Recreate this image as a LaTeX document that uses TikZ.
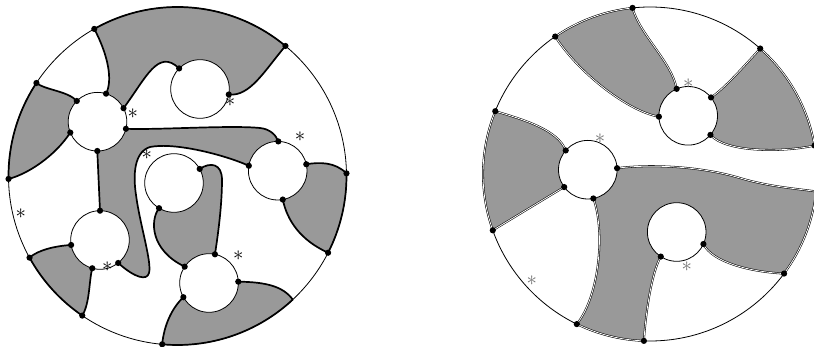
\documentclass[tikz,border=0pt]{standalone}
\usetikzlibrary{calc}
\definecolor{regiongray}{gray}{0.6}
\tikzset{
  region/.style={fill=regiongray, draw=black, line width=1.7pt, line join=round},
  ribbon/.style={fill=regiongray, draw=black, line width=0.55pt, double=white, double distance=0.8pt, line join=round},
  hole/.style={fill=white, draw=black, line width=0.8pt},
  rim/.style={draw=black, line width=0.8pt},
  starblack/.style={inner sep=0pt, font=\huge},
  stargray/.style={inner sep=0pt, font=\huge, text=black!55}
}
\begin{document}
\begin{tikzpicture}[x=1pt,y=1pt,yscale=-1]
		\def\rL{169}
		\def\rR{167}
		\def\rS{29.3}
		\def\rDot{3.1}

\useasboundingbox (0,0) rectangle (814,347);
\clip (0,0) rectangle (814,347);

% left disk
\coordinate (OL) at (177.5,176);
\coordinate (A) at (97.5,121.7);
\coordinate (B) at (200,89);
\coordinate (C) at (277.7,170.7);
\coordinate (D) at (174,183);
\coordinate (E) at (100,240);
\coordinate (F) at (209,283);

\foreach \n/\t in {1/240.5,2/309.7,3/213.4,4/179,5/359.1,6/27,7/151.1,8/124.3,9/95.2,10/47}
	\path (OL) ++(\t:\rL) coordinate (a\n);
\foreach \n/\t in {1/287,2/225,3/332.6,4/14,5/158.2,6/90.4}
	\path (A) ++(\t:\rS) coordinate (A\n);
\foreach \n/\t in {1/224.6,2/10.8}
	\path (B) ++(\t:\rS) coordinate (B\n);
\foreach \n/\t in {1/271.2,2/189.7,3/347.3,4/80}
	\path (C) ++(\t:\rS) coordinate (C\n);
\foreach \n/\t in {1/331.3,2/120.7}
	\path (D) ++(\t:\rS) coordinate (D\n);
\foreach \n/\t in {1/270,2/170.2,3/105.3,4/51.6}
	\path (E) ++(\t:\rS) coordinate (E\n);
\foreach \n/\t in {1/281.7,2/213.9,3/357.4,4/151}
	\path (F) ++(\t:\rS) coordinate (F\n);

\filldraw[region] (a1) .. controls (108,55) and (113,80) .. (A1) -- (A) -- (A3) .. controls (146,78) and (158,48) .. (B1) -- (B) -- (B2) .. controls (250,97) and (265,70) .. (a2) arc[start angle=309.7, end angle=240.5, radius=\rL] -- cycle;
\filldraw[region] (a3) .. controls (45,90) and (68,91) .. (A2) -- (A) -- (A5) .. controls (55,156) and (28,174) .. (a4) arc[start angle=179, end angle=213.4, radius=\rL] -- cycle;
\filldraw[region] (A4) .. controls (160,130) and (230,125) .. (260,128) .. controls (270,129) and (276,135) .. (C1) -- (C) -- (C2) .. controls (225,155) and (175,142) .. (150,147) .. controls (134,152) and (133,175) .. (136,195) .. controls (140,225) and (152,262) .. (149,273) .. controls (147,281) and (135,278) .. (E4) -- (E) -- (E1) -- (A6) -- (A) -- cycle;
\filldraw[region] (D1) .. controls (210,162) and (222,163) .. (222,180) .. controls (222,205) and (218,235) .. (F1) -- (F) -- (F2) .. controls (150,250) and (150,220) .. (D2) -- (D) -- cycle;
\filldraw[region] (C3) .. controls (320,162) and (335,162) .. (a5) arc[start angle=-0.9, end angle=27, radius=\rL] .. controls (300,240) and (287,220) .. (C4) -- (C) -- cycle;
\filldraw[region] (a7) arc[start angle=151.1, end angle=124.3, radius=\rL] .. controls (90,303) and (89,280) .. (E3) -- (E) -- (E2) .. controls (55,246) and (38,250) .. (a7) -- cycle;
\filldraw[region] (F4) .. controls (172,308) and (164,325) .. (a9) arc[start angle=95.2, end angle=47, radius=\rL] .. controls (283,286) and (265,282) .. (F3) -- (F) -- cycle;

\draw[rim] (OL) circle (\rL);
\foreach \c in {A,B,C,D,E,F}
	\draw[hole] (\c) circle (\rS);
\foreach \p in {a1,a2,a3,a4,a5,a6,a7,a8,a9,A1,A2,A3,A4,A5,A6,B1,B2,C1,C2,C3,C4,D1,D2,E1,E2,E3,E4,F1,F2,F3,F4}
	\fill (\p) circle (\rDot);

\node[starblack] (s1) at (132.7,113.3) {$\ast$};
\node[starblack] (s2) at (230,101.7) {$\ast$};
\node[starblack] (s3) at (300,136.7) {$\ast$};
\node[starblack] (s4) at (146.7,155) {$\ast$};
\node[starblack] (s5) at (20.7,213.3) {$\ast$};
\node[starblack] (s6) at (107.3,266.7) {$\ast$};
\node[starblack] (s7) at (238.3,256) {$\ast$};

% right disk
\coordinate (OR) at (650,174);
\coordinate (P) at (688.2,115.8);
\coordinate (Q) at (587.8,169.7);
\coordinate (S) at (676.7,232);

\foreach \n/\t in {1/264,2/235.4,3/311.3,4/202.1,5/350.2,6/160.3,7/36.6,8/116,9/92.1,10/6}
	\path (OR) ++(\t:\rR) coordinate (b\n);
\foreach \n/\t in {1/246.8,2/178.3,3/321.2,4/40.7}
	\path (P) ++(\t:\rS) coordinate (P\n);
\foreach \n/\t in {1/221.1,2/143.7,3/357,4/79.1}
	\path (Q) ++(\t:\rS) coordinate (Q\n);
\foreach \n/\t in {1/122.9,2/24.3}
	\path (S) ++(\t:\rS) coordinate (S\n);

\draw[rim] (OR) circle (\rR);

\filldraw[ribbon] (b2) arc[start angle=235.4, end angle=264, radius=\rR] .. controls (640,35) and (672,62) .. (P1) -- (P) -- (P2) .. controls (630,112) and (580,75) .. (b2) -- cycle;
\filldraw[ribbon] (P3) .. controls (725,88) and (745,65) .. (b3) arc[start angle=311.3, end angle=350.2, radius=\rR] .. controls (780,153) and (725,152) .. (P4) -- (P) -- cycle;
\filldraw[ribbon] (b4) .. controls (525,120) and (558,130) .. (Q1) -- (Q) -- (Q2) -- (b6) arc[start angle=160.3, end angle=202.1, radius=\rR] -- cycle;
\filldraw[ribbon] (Q3) .. controls (650,164) and (700,166) .. (740,178) .. controls (770,187) and (800,189) .. (b10) arc[start angle=6, end angle=36.6, radius=\rR] .. controls (750,272) and (712,262) .. (S2) -- (S) -- (S1) .. controls (652,272) and (646,310) .. (b9) arc[start angle=92.1, end angle=116, radius=\rR] .. controls (600,295) and (605,230) .. (Q4) -- (Q) -- cycle;

\foreach \c in {P,Q,S}
	\draw[hole] (\c) circle (\rS);
\foreach \p in {b1,b2,b3,b4,b5,b6,b7,b8,b9,P1,P2,P3,P4,Q1,Q2,Q3,Q4,S1,S2}
	\fill (\p) circle (\rDot);

\node[stargray] (s8) at (688.3,83.3) {$\ast$};
\node[stargray] (s9) at (600,138.3) {$\ast$};
\node[stargray] (s10) at (686.7,266.7) {$\ast$};
\node[stargray] (s11) at (531.7,281) {$\ast$};

	\end{tikzpicture}
\end{document}
